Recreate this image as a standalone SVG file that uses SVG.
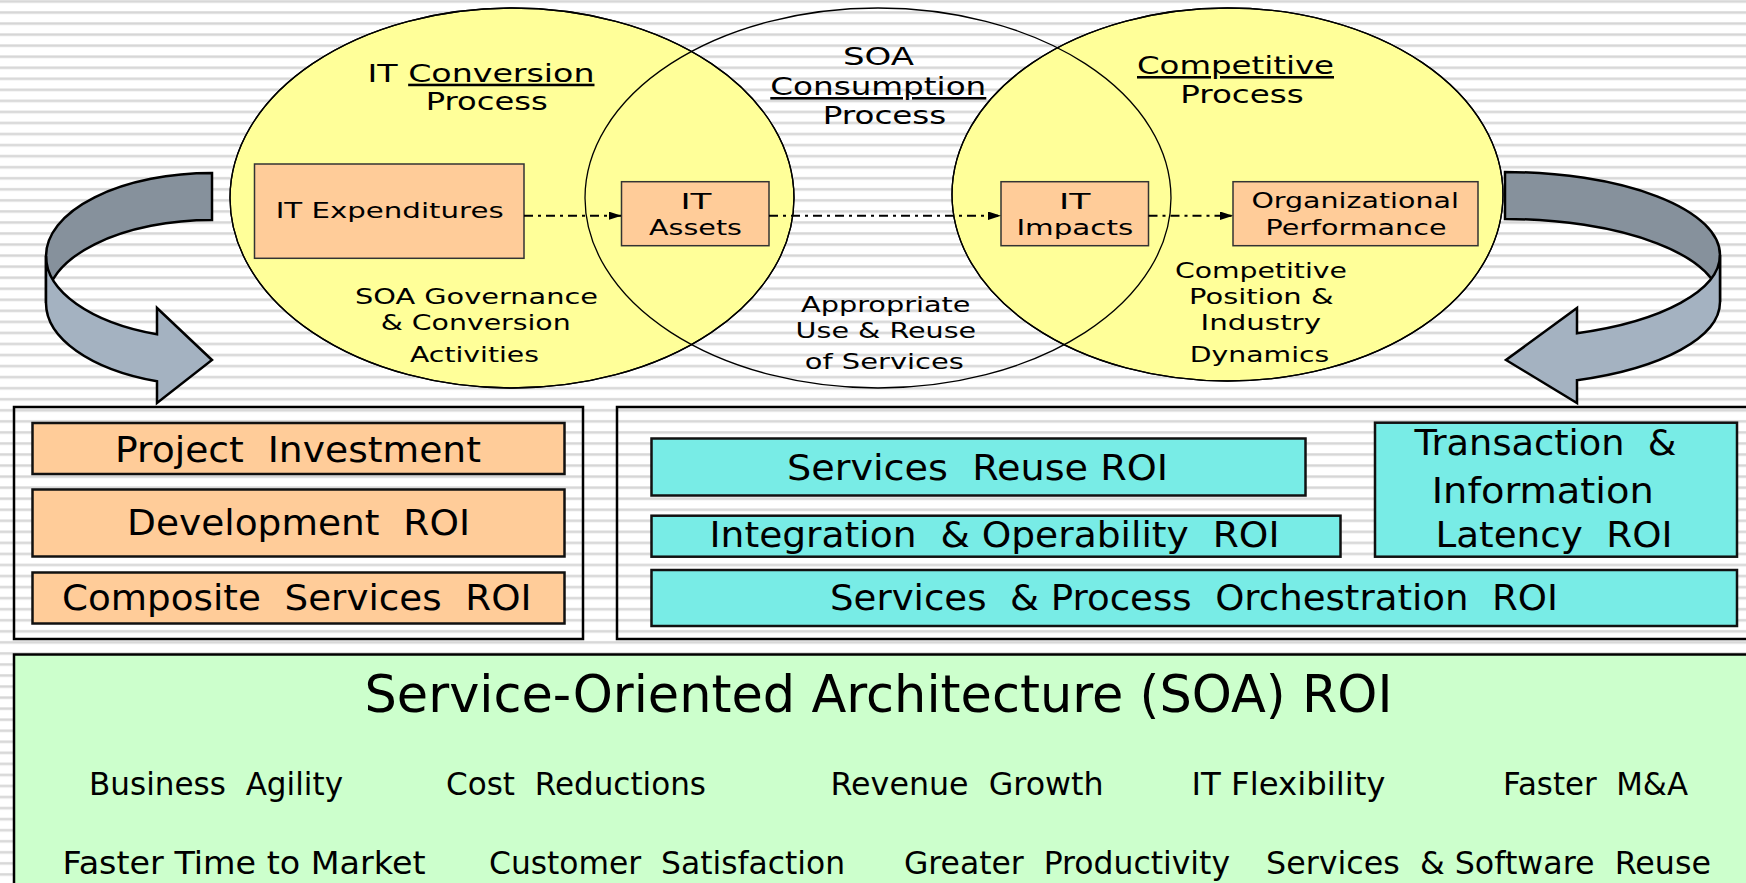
<svg xmlns="http://www.w3.org/2000/svg" width="1746" height="883" viewBox="0 0 1746 883">
  <defs>
    <pattern id="stripes" width="40" height="11.05" patternUnits="userSpaceOnUse">
      <rect width="40" height="11.05" fill="#ffffff"/>
      <rect y="0" width="40" height="3" fill="#e6e6e6"/>
      <rect y="0.6" width="40" height="1.6" fill="#d6d6d6"/>
    </pattern>
    <marker id="arrowhead" markerWidth="13" markerHeight="9" refX="13" refY="4.2" orient="auto" markerUnits="userSpaceOnUse">
      <path d="M0,0 L13,4.2 L0,8.4 Z" fill="#000"/>
    </marker>
    <style>
      text { font-family: "DejaVu Sans", Verdana, sans-serif; fill: #000; }
      .title { font-size: 25.5px; }
      .body { font-size: 22px; }
      .roi { font-size: 35px; }
      .big { font-size: 51px; }
      .benefit { font-size: 32px; }
      .u { text-decoration: underline; }
      .circle { stroke: #000; stroke-width: 1.3; }
      .yellow { fill: #ffff99; }
      .step { fill: #ffcc99; stroke: #333; stroke-width: 1.5; }
      .frame { fill: none; stroke: #000; stroke-width: 2.5; }
      .orange { fill: #ffcc99; stroke: #111; stroke-width: 2.5; }
      .cyan { fill: #78ece6; stroke: #111; stroke-width: 2.5; }
      .flow { fill: none; stroke: #000; stroke-width: 2; stroke-dasharray: 9 5 3 5; }
      .ribbon-back { fill: #86919c; stroke: #000; stroke-width: 2.5; stroke-linejoin: miter; }
      .ribbon-front { fill: #a4b2c1; stroke: #000; stroke-width: 2.5; stroke-linejoin: miter; }
    </style>
  </defs>

  <!-- striped backdrop -->
  <rect width="1746" height="883" fill="url(#stripes)"/>

  <!-- three overlapping process ellipses -->
  <g id="process-ellipses">
    <ellipse id="it-conversion" class="circle yellow" cx="512" cy="198" rx="282" ry="190"/>
    <ellipse id="competitive" class="circle yellow" cx="1227.5" cy="194.5" rx="275.5" ry="186.5"/>
    <ellipse id="soa-consumption" class="circle" fill="none" cx="878" cy="198" rx="293" ry="190"/>
    <ellipse class="circle" fill="none" cx="512" cy="198" rx="282" ry="190"/>
    <ellipse class="circle" fill="none" cx="1227.5" cy="194.5" rx="275.5" ry="186.5"/>
  </g>

  <!-- ellipse captions -->
  <g id="caption-it-conversion">
    <text class="title" x="367.5" y="81.7" textLength="227" lengthAdjust="spacingAndGlyphs">IT <tspan class="u">Conversion</tspan></text>
    <text class="title" x="425.7" y="110" textLength="122" lengthAdjust="spacingAndGlyphs">Process</text>
    <text class="body" x="355" y="304" textLength="243" lengthAdjust="spacingAndGlyphs">SOA Governance</text>
    <text class="body" x="380.7" y="330" textLength="190" lengthAdjust="spacingAndGlyphs">&amp; Conversion</text>
    <text class="body" x="410" y="361.7" textLength="129" lengthAdjust="spacingAndGlyphs">Activities</text>
  </g>
  <g id="caption-soa-consumption">
    <text class="title" x="843" y="65" textLength="71" lengthAdjust="spacingAndGlyphs">SOA</text>
    <text class="title u" x="770.3" y="95" textLength="216" lengthAdjust="spacingAndGlyphs">Consumption</text>
    <text class="title" x="822.8" y="124" textLength="123.5" lengthAdjust="spacingAndGlyphs">Process</text>
    <text class="body" x="801" y="311.7" textLength="169.5" lengthAdjust="spacingAndGlyphs">Appropriate</text>
    <text class="body" x="795.6" y="338.3" textLength="180.5" lengthAdjust="spacingAndGlyphs">Use &amp; Reuse</text>
    <text class="body" x="804.8" y="369.3" textLength="159" lengthAdjust="spacingAndGlyphs">of Services</text>
  </g>
  <g id="caption-competitive">
    <text class="title u" x="1137" y="74" textLength="197" lengthAdjust="spacingAndGlyphs">Competitive</text>
    <text class="title" x="1180.2" y="103.3" textLength="123.5" lengthAdjust="spacingAndGlyphs">Process</text>
    <text class="body" x="1174.9" y="277.7" textLength="172" lengthAdjust="spacingAndGlyphs">Competitive</text>
    <text class="body" x="1189" y="304" textLength="144.5" lengthAdjust="spacingAndGlyphs">Position &amp;</text>
    <text class="body" x="1200.5" y="330" textLength="120.5" lengthAdjust="spacingAndGlyphs">Industry</text>
    <text class="body" x="1189.8" y="361.7" textLength="139.5" lengthAdjust="spacingAndGlyphs">Dynamics</text>
  </g>

  <!-- value chain steps -->
  <g id="it-expenditures">
    <rect class="step" x="254.5" y="164" width="269.5" height="94.3"/>
    <text class="body" x="275.7" y="218" textLength="228" lengthAdjust="spacingAndGlyphs">IT Expenditures</text>
  </g>
  <g id="it-assets">
    <rect class="step" x="621.5" y="181.7" width="147.5" height="64"/>
    <text class="body" x="680.4" y="209.3" textLength="31" lengthAdjust="spacingAndGlyphs">IT</text>
    <text class="body" x="649" y="234.5" textLength="93" lengthAdjust="spacingAndGlyphs">Assets</text>
  </g>
  <g id="it-impacts">
    <rect class="step" x="1001" y="181.7" width="147.5" height="64"/>
    <text class="body" x="1059" y="209.3" textLength="31.5" lengthAdjust="spacingAndGlyphs">IT</text>
    <text class="body" x="1016.4" y="234.5" textLength="117" lengthAdjust="spacingAndGlyphs">Impacts</text>
  </g>
  <g id="organizational-performance">
    <rect class="step" x="1233" y="181.7" width="245" height="64"/>
    <text class="body" x="1251.4" y="208.3" textLength="207.5" lengthAdjust="spacingAndGlyphs">Organizational</text>
    <text class="body" x="1265.5" y="234.5" textLength="181" lengthAdjust="spacingAndGlyphs">Performance</text>
  </g>

  <!-- dash-dot flow between steps -->
  <g id="connectors">
    <line class="flow" x1="524" y1="215.7" x2="621.5" y2="215.7" marker-end="url(#arrowhead)"/>
    <line class="flow" x1="769" y1="215.7" x2="1001" y2="215.7" marker-end="url(#arrowhead)"/>
    <line class="flow" x1="1148.5" y1="215.7" x2="1233" y2="215.7" marker-end="url(#arrowhead)"/>
  </g>

  <!-- feedback ribbons -->
  <g id="feedback-left">
    <path class="ribbon-back" d="M212,173 A166,83 0 0 0 46,256 L46,303 A166,83 0 0 1 212,220 Z"/>
    <path class="ribbon-front" d="M46,256 L46,303 A166,83 0 0 0 157,381.3 L157,403 L212,360 L157,308 L157,334.3 A166,83 0 0 1 46,256 Z"/>
  </g>
  <g id="feedback-right">
    <path class="ribbon-back" d="M1505,172 A215,83 0 0 1 1720,255 L1720,302 A215,83 0 0 0 1505,219 Z"/>
    <path class="ribbon-front" d="M1720,255 L1720,302 A215,83 0 0 1 1577,380.2 L1577,403 L1506,360 L1577,308 L1577,333.2 A215,83 0 0 0 1720,255 Z"/>
  </g>

  <!-- investment side -->
  <g id="investment-panel">
    <rect class="frame" x="14" y="407" width="569" height="232"/>
  </g>
  <g id="project-investment">
    <rect class="orange" x="32.5" y="423" width="532" height="51"/>
    <text class="roi" xml:space="preserve" x="115" y="461.7" textLength="366" lengthAdjust="spacingAndGlyphs">Project  Investment</text>
  </g>
  <g id="development-roi">
    <rect class="orange" x="32.5" y="489.5" width="532" height="67"/>
    <text class="roi" xml:space="preserve" x="127" y="535" textLength="343" lengthAdjust="spacingAndGlyphs">Development  ROI</text>
  </g>
  <g id="composite-services-roi">
    <rect class="orange" x="32.5" y="572.5" width="532" height="51"/>
    <text class="roi" xml:space="preserve" x="62" y="610" textLength="469.5" lengthAdjust="spacingAndGlyphs">Composite  Services  ROI</text>
  </g>

  <!-- service returns side -->
  <g id="returns-panel">
    <rect class="frame" x="617" y="407" width="1140" height="232"/>
  </g>
  <g id="services-reuse-roi">
    <rect class="cyan" x="651.5" y="438.5" width="654" height="57"/>
    <text class="roi" xml:space="preserve" x="787" y="480" textLength="381" lengthAdjust="spacingAndGlyphs">Services  Reuse ROI</text>
  </g>
  <g id="integration-roi">
    <rect class="cyan" x="651.5" y="515.7" width="689" height="41"/>
    <text class="roi" xml:space="preserve" x="709.5" y="546.7" textLength="570" lengthAdjust="spacingAndGlyphs">Integration  &amp; Operability  ROI</text>
  </g>
  <g id="latency-roi">
    <rect class="cyan" x="1375" y="422.7" width="362" height="134"/>
    <text class="roi" xml:space="preserve" x="1414.5" y="455" textLength="262" lengthAdjust="spacingAndGlyphs">Transaction  &amp;</text>
    <text class="roi" x="1431.8" y="503.3" textLength="222" lengthAdjust="spacingAndGlyphs">Information</text>
    <text class="roi" xml:space="preserve" x="1435.5" y="546.7" textLength="237" lengthAdjust="spacingAndGlyphs">Latency  ROI</text>
  </g>
  <g id="orchestration-roi">
    <rect class="cyan" x="651.5" y="570" width="1085.5" height="56"/>
    <text class="roi" xml:space="preserve" x="830" y="610" textLength="728" lengthAdjust="spacingAndGlyphs">Services  &amp; Process  Orchestration  ROI</text>
  </g>

  <!-- overall SOA return -->
  <g id="soa-roi">
    <rect x="14" y="654.5" width="1745" height="240" fill="#ccffcc" stroke="#000" stroke-width="2.5"/>
    <text class="big" x="364.5" y="712.3" textLength="1028" lengthAdjust="spacingAndGlyphs">Service-Oriented Architecture (SOA) ROI</text>
    <text class="benefit" xml:space="preserve" x="89" y="795" textLength="254" lengthAdjust="spacingAndGlyphs">Business  Agility</text>
    <text class="benefit" xml:space="preserve" x="446" y="795" textLength="260" lengthAdjust="spacingAndGlyphs">Cost  Reductions</text>
    <text class="benefit" xml:space="preserve" x="830.5" y="795" textLength="273" lengthAdjust="spacingAndGlyphs">Revenue  Growth</text>
    <text class="benefit" x="1191.5" y="795" textLength="194" lengthAdjust="spacingAndGlyphs">IT Flexibility</text>
    <text class="benefit" xml:space="preserve" x="1503" y="795" textLength="185" lengthAdjust="spacingAndGlyphs">Faster  M&amp;A</text>
    <text class="benefit" x="62.5" y="874" textLength="363" lengthAdjust="spacingAndGlyphs">Faster Time to Market</text>
    <text class="benefit" xml:space="preserve" x="489" y="874" textLength="356" lengthAdjust="spacingAndGlyphs">Customer  Satisfaction</text>
    <text class="benefit" xml:space="preserve" x="904" y="874" textLength="326" lengthAdjust="spacingAndGlyphs">Greater  Productivity</text>
    <text class="benefit" xml:space="preserve" x="1266" y="874" textLength="445" lengthAdjust="spacingAndGlyphs">Services  &amp; Software  Reuse</text>
  </g>
</svg>
